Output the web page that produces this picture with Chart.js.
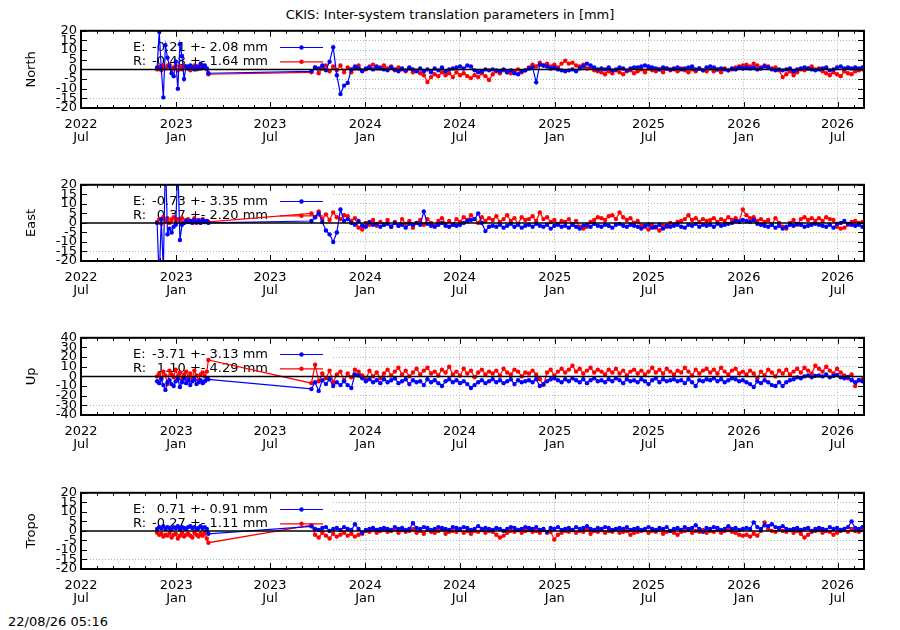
<!DOCTYPE html>
<html>
<head>
<meta charset="utf-8">
<title>CKIS inter-system translation parameters</title>
<script src="https://cdn.jsdelivr.net/npm/chart.js@4.4.1/dist/chart.umd.min.js"></script>
<style>
  body { margin: 0; background: #fff; }
  #page { position: relative; width: 900px; height: 630px; font-family: "DejaVu Sans", sans-serif; font-size: 13px; line-height: 15px; color: #000; }
  #page canvas { position: absolute; left: 0; }
  #title { position: absolute; top: 7px; left: 0; width: 900px; text-align: center; }
  #stamp { position: absolute; left: 8px; top: 614px; }
</style>
</head>
<body>
<div id="page">
  <div id="title">CKIS: Inter-system translation parameters in [mm]</div>
  <canvas id="cNorth" width="900" height="134" style="top:19px"></canvas>
  <canvas id="cEast" width="900" height="133" style="top:173px"></canvas>
  <canvas id="cUp" width="900" height="134" style="top:326px"></canvas>
  <canvas id="cTropo" width="900" height="133" style="top:481px"></canvas>
  <div id="stamp">22/08/26 05:16</div>
</div>
<script>
// dates of the solutions, in days since 2022-07-01
var days = [147, 151, 155, 159, 163, 167, 171, 175, 179, 183, 187, 191, 195, 199, 203, 207, 211, 215, 219, 223, 227, 231, 235, 239, 243, 246,
  445, 452, 459, 466, 473, 480, 487, 494, 501, 508,
  515, 522, 529, 536, 543, 550, 557, 564, 571, 578,
  585, 592, 599, 606, 613, 620, 627, 634, 641, 648,
  655, 662, 669, 676, 683, 690, 697, 704, 711, 718,
  725, 732, 739, 746, 753, 760, 767, 774, 781, 788,
  795, 802, 809, 816, 823, 830, 837, 844, 851, 858,
  865, 872, 879, 886, 893, 900, 907, 914, 921, 928,
  935, 942, 949, 956, 963, 970, 977, 984, 991, 998,
  1005, 1012, 1019, 1026, 1033, 1040, 1047, 1054, 1061, 1068,
  1075, 1082, 1089, 1096, 1103, 1110, 1117, 1124, 1131, 1138,
  1145, 1152, 1159, 1166, 1173, 1180, 1187, 1194, 1201, 1208,
  1215, 1222, 1229, 1236, 1243, 1250, 1257, 1264, 1271, 1278,
  1285, 1292, 1299, 1306, 1313, 1320, 1327, 1334, 1341, 1348,
  1355, 1362, 1369, 1376, 1383, 1390, 1397, 1404, 1411, 1418,
  1425, 1432, 1439, 1446, 1453, 1460, 1467, 1474, 1481, 1488,
  1495, 1502, 1509];

// North [mm]
var northE = [1, 19.5, 0.5, -14.5, 12.5, 6, 1.5, -2, -3.5, 4, -10, 13, 7, -5, 1.5, 0.5, 2, 1, 0, 1.5, 0.5, 3, 1, 2, 0.5, -2,
  -1, 1, 0.5, 2, -0.5, 4, 11.5, -3, -12.8, -8.4,
  -7, 0, 1.5, 0.5, -1, 0.5, 1, 0, 1.5, 0.5,
  0, -0.5, 1, 0, -1, 0.5, -0.5, 1, 0, -1,
  0.5, -1, 0, -1.5, 0.5, -0.5, 1, -1, 0, 0.5,
  1, 1.5, 0.5, 2, 1.5, -0.5, -1.5, -1, 0, -0.5,
  0, -0.5, -1, 0, -1.5, -0.5, -2, -2.5, -1, -0.5,
  0.5, 1, -6.7, 2.5, 2, 1.5, 0.5, 1, 0, -0.5,
  -1, -0.5, 0, -1, 0.5, 1.5, 3, 2, 1, 0,
  0.5, 0, 1, -0.5, 0, 1, 0.5, -0.5, 0.5, 1,
  1, 1.5, 2, 1.5, 1, 0.5, 0, 1, 0.5, 0,
  0.5, 1, 0, 0.5, 1, 1.5, 0, 0.5, -0.5, 1,
  1.5, 1, 0, 0.5, 0, -0.5, 0.5, 0, 1, 0.5,
  1, 0.5, 1, 0, 0.5, 1.5, 1, 0, -0.5, 0,
  -0.5, 0, 0.5, -1, 0, 0.5, 1, 0.5, 0, -0.5,
  0, 0.5, 1, -0.5, 0, 1, 1.5, 0.5, 1, 0.5,
  1, 0.5, 1];
var northR = [0, 1.5, -0.5, 2, 0.5, 1.5, 2.5, 0, 1, 2, -0.5, 1.5, 0, 2, 1, 1.5, -0.5, 1, 2, 0, 1.5, 0.5, 2, 1, 0, -2.5,
  -1.5, 1, -2, 0.5, 2, -1, 1.5, -0.5, 2, -1.5,
  1, -1.5, 0.5, 2, -0.5, 0, 1.5, 2.5, 0.5, 1,
  2, 0.5, 1.5, -0.5, 1, 0, -1, 0.5, -1.5, -0.5,
  -2, -3, -6.5, -4, -2.5, -3.5, -1.5, -3, -2, -4,
  -1.5, -3, -2, -3.5, -4.5, -3, -4, -2, -3.5, -5.5,
  -2.5, -1, -2, -0.5, -1.5, -2, -1, 0, -1.5, -0.5,
  1, 2.5, 1.5, 3.5, 2, 3, 1.5, 2.5, 1, 3,
  4.5, 3, 3.5, 2, 1.5, 2.5, 0.5, 1, -0.5, -1,
  -1.5, -2.5, -1, -2, -0.5, -1.5, -2.5, -1, -0.5, -2,
  -1, 0, -1.5, 0.5, -0.5, -1, 0, -1.5, 0.5, -0.5,
  0, -1, 0.5, -0.5, -1.5, 0, -1, 0.5, -0.5, -1,
  0.5, -1, 0, -1.5, 0.5, -0.5, 0, 1, 1.5, 2,
  2.5, 1.5, 3, 2, 1, 2, 1.5, 0.5, 1, -0.5,
  -4, -2.5, -1, -3, -1.5, 0, -0.5, 0.5, 1.5, 0,
  0.5, -1, -2, -3, -1.5, -2.5, -3.5, -1, -2, -2.5,
  -1, -0.5, 0];

// East [mm]
var eastE = [0, -30, 2, -25, 35, -6, -3, -5, -2, -1, 30, -9, -1, 0, 1, 0.5, 1, 0, 1.5, 0.5, 1, 0, 1.5, 0.5, 1, 0,
  1, 3, 5, 0.5, -4, -6, -10, -5, 7, 1,
  2, 0, -1, 1, -1.5, -2, 0.5, -1, -0.5, -2,
  -1, -0.5, -2, 0, -1.5, -1, -2.5, -0.5, -1, 0,
  -1, 6, -0.5, -1.5, -2, -1, 0, -1.5, -2, -1,
  -1.5, -1, 0, 1, 1.5, 2, 5, 0, -4.3, -2,
  -1.5, -2, -1, -2.5, -1.5, -0.5, -2, -1, -2.5, -1.5,
  -1, -2, -0.5, -1.5, -2, -1, -3, -1.5, -1, -2,
  -1.5, -2.5, -1, -2, -3, -1.5, -1, -2, -0.5, -1.5,
  -2, -1, -1.5, -2.5, -1, -0.5, -1.5, -2, -1, -1.5,
  -2, -3, -1.5, -1, -2.5, -2, -1, -3, -1.5, -2,
  -1.5, -1, -2, -2.5, -1, -1.5, -0.5, -2, -1, -1.5,
  -1, -2, -0.5, -1.5, -1, -0.5, 0, 1, 0.5, 1.5,
  1, 0.5, 1.5, -0.5, -1, -1.5, -2, -1, -2.5, -1.5,
  -3, -2, -1, -1.5, -0.5, -1, -2, -1.5, -1, -0.5,
  -1, -1.5, -2, -1, -2.5, -0.5, 0, 1, -0.5, -1,
  -1.5, -1, -2];
var eastR = [0.5, 2, -0.5, 3, 1, 2.5, 0, 1.5, 3, 0.5, 2, 1, 2.5, 0, 1.5, 2, 0.5, 1, 2.5, 0, 1.5, 1, 2, 0.5, 1, 0.5,
  5, 3, 6, 2, 4.5, 1.5, 5.5, 3, 2, 4,
  3.5, 1, 2.5, -2.5, -3.5, 0, -1, 1.5, -1.5, 0.5,
  -1, 1.5, -2, 0.5, -1.5, 2, -0.5, 1, -2.5, 0,
  1.5, -1, 2, 0, -1.5, 1, 2.5, -0.5, 1, -1,
  2, 0.5, 3, 1.5, 4, 2, 0, 3, 1, 2.5,
  1.5, 3.5, 0.5, 2, 4, 1, 2.5, -0.5, 3, 1.5,
  2, 3.5, 1, 5.5, 2, 3, 0.5, 1.5, -0.5, 1,
  0.5, 2, -1, 1, -2, -3, -2, 0.5, 1.5, 3,
  2.5, 1.5, 3.5, 4, 2, 5.5, 3, 1.5, 2.5, 0,
  1, -1.5, -2, -3.5, -1, -2.5, -4, -1.5, -2, 0,
  -1, 0.5, 1, 2, 4, 1.5, 2.5, 0.5, 2, 1,
  1.5, 2.5, 0.5, 2, 1, 3, 1.5, 2.5, 1, 7,
  4, 2.5, 3, 1, 2, 0.5, 1.5, -1, 2.5, 0,
  -2, -3, 0, 1.5, -1, 2, 3, 1.5, 2.5, 1,
  2.5, 1, 3, 2, 1.5, -2, -3, -2.5, -1, 0.5,
  1, 0, 0.5];

// Up [mm]
var upE = [-5, -7, -3, -9, -14, -6, -4, -8, -10, -5, -3, -11, -6, -2, -7, -4, -9, -5, -3, -8, -6, -4, -7, -5, -3, -3,
  -13, -6, -15, -4, -8, -3, -10, -6, -9, -5,
  -9, -12, 2, 1, -2, -5, -3, -6, -4, -7,
  -3, -6, -4, -2, -7, -5, -3, -8, -4, -6,
  -5, -9, -3, -6, -4, -7, -10, -5, -3, -6,
  -4, -7, -5, -8, -12, -9, -6, -4, -7, -5,
  -3, -6, -4, -7, -5, -3, -8, -4, -6, -5,
  -4, -6, -3, -10, -8, -5, -3, -2, -4, -6,
  -3, -5, -2, -4, -6, -3, -7, -4, -2, -5,
  -4, -6, -3, -5, -2, -4, -7, -3, -5, -4,
  -6, -3, -5, -8, -4, -2, -6, -3, -5, -4,
  -3, -5, -4, -7, -3, -6, -10, -4, -5, -3,
  -4, -2, -5, -3, -6, -4, -2, -3, -5, -4,
  -6, -8, -11, -5, -7, -4, -6, -9, -10, -6,
  -10, -6, -4, -3, -1, -2, 0, 1, -1, 0.5,
  1, 0, 2, -1, 0.5, 1.5, -1, -2, -0.5, -4,
  -6, -4, -5];
var upR = [0, 3, -2, 5, 1, -8, 6, 2, -1, 7, 0, 4, -3, 2, 5, -1, 3, -2, 6, 1, -4, 2, 4, 0, 5, 17,
  -7, 12, -5, 3, -2, 6, -6, 2, 5, -4,
  3, -1, 7, 5, 1, -3, 6, 0, 4, -2,
  3, 7, 1, 5, 9, 2, 6, 0, 4, 8,
  2, 6, 9, 3, 5, 1, 7, 4, 10, 2,
  5, 1, 8, 3, 6, -1, 4, 7, 2, 5,
  3, 6, 1, 8, 4, 2, 7, 5, 0, 4,
  3, 6, 2, -3, -9, 4, 7, 1, 5, 8,
  4, 7, 11, 5, 8, 3, 6, 9, 4, 7,
  5, 2, 7, 4, 8, 3, 6, 1, 5, 7,
  3, 6, 2, 5, 9, 4, 7, 3, 8, 5,
  2, 6, 4, 9, 5, 1, 7, 3, 6, 8,
  4, 7, 3, 9, 5, 2, 6, 8, 3, 5,
  2, 6, 3, -2, 5, 1, 7, 4, 0, 6,
  3, 7, 2, 5, 8, 4, 9, 6, 3, 11,
  8, 5, 10, 6, 3, 8, 4, 1, -2, 2,
  -10, -4, -3];

// Tropo [mm]
var tropoE = [1, 2, 1.5, 2.5, 1, 2, 1.5, 0.5, 2, 1.5, 2.5, 1, 2, 1.5, 1, 2, 2.5, 1.5, 2, 1, 1.5, 2.5, 1.5, 2, 1, -1.5,
  2.4, 1, 0.5, 1.5, 2, 0, 1, 1.5, 0.5, 2,
  1, 0.5, 3.5, 1, -1, 0.5, 1, 1.5, 0.5, 1,
  1.5, 1, 0.5, 2, 1, 1.5, 0.5, 1, 4, 1.5,
  1, 2, 1.5, 0.5, 1, 2, 1.5, 1, 0.5, 2,
  1.5, 1, 2, 1.5, 0.5, 1, 2.5, 1, 1.5, 1,
  0.5, 1.5, 1, 0, 1, 2, 1.5, 0.5, 1, 2,
  1.5, 1, 2, 0.5, 1, -0.5, 1.5, 1, 2, 0.5,
  1, 1.5, 0.5, 2, 1, 1.5, 2.5, 1, 0.5, 1.5,
  1, 2, 1.5, 0.5, 1, 1.5, 1, 2, 0.5, 1,
  1.5, 0.5, 1, 2, 1, 0.5, 1.5, 1, 2, 0,
  1, 1.5, 0.5, 2, 1, 1.5, 3, 1, -0.5, 1.5,
  1, 2, 1.5, 0.5, 1, 2.5, 1, 1.5, 0.5, 1,
  1.5, 1, 4.5, 2, 1, 3, 2.5, 3.5, 2, 1.5,
  2.5, 1, 0.5, 1, 1.5, 0.5, 1, 1.5, 0, 1,
  1.5, 1, 0.5, 2, 1, 1.5, 0.5, 1, 2, 5,
  1.5, 1, 2];
var tropoR = [-1, -2, -1.5, -3, -2, -2.5, -1, -3.5, -2, -1.5, -4, -2.5, -1, -3, -2, -1.5, -2.5, -3.5, -1, -2, -3, -1.5, -2.5, -1, -4, -6.2,
  3, -2, -3.5, -1, -2.5, -4, -1.5, -3, -2, -1,
  -2.5, -1.5, -3, -2, -1.5, 0, -0.5, 0.5, -1, 0,
  0.5, -0.5, 0, 1, -1, 0.5, -0.5, 0, 1, -1,
  0, -1.5, 0.5, -0.5, -1, 0, 1, -1.5, -0.5, 0,
  -0.5, 0.5, -1, 0, -1.5, 0, -0.5, 0.5, -1, 0,
  -0.5, -2, -3.5, -2.5, -1, 0, -0.5, 0.5, -1, 0,
  0.5, -0.5, 0, -1, 0.5, -1, -0.5, -4.5, -2, -1,
  0, -0.5, 0.5, -1, 0, -0.5, 1, -1.5, 0, -0.5,
  0.5, -1, 0, -0.5, 1, -1, -0.5, 0, -2, -1,
  -0.5, 0, 0.5, -1, 0, -0.5, 0.5, -1.5, -0.5, 0,
  -1, -2, -0.5, 0, 0.5, -1, 0, -0.5, 0.5, -1,
  0, -0.5, 0.5, -1, 0, 0.5, -0.5, -1, -2, -2.5,
  -2, -3, -1.5, -2.5, 0, 4.5, 1, 0, -0.5, 1,
  0, -0.5, 0.5, -1, 0, -1.5, -3.5, -2, -0.5, 0,
  0.5, -1, 0, -0.5, -2, -1, 0, 0.5, -0.5, 1,
  0, -0.5, 0.5];

// key texts: mean +- rms per solution
var keyNorth = [['E:', '-0.21 +- 2.08 mm'], ['R:', '-0.48 +- 1.64 mm']];
var keyEast = [['E:', '-0.73 +- 3.35 mm'], ['R:', '0.37 +- 2.20 mm']];
var keyUp = [['E:', '-3.71 +- 3.13 mm'], ['R:', '1.10 +- 4.29 mm']];
var keyTropo = [['E:', '0.71 +- 0.91 mm'], ['R:', '-0.27 +- 1.11 mm']];

var C_E = '#0000ff', C_R = '#ff0000', GRID = '#b4b4b4', NONE = 'rgba(0,0,0,0)';
var FONT = '"DejaVu Sans", sans-serif';

// one tick per month, labels on January and July
var T0 = Date.UTC(2022, 6, 1);
var monthTicks = [];
for (var i = 0; i <= 49; i++) {
  var yy = 2022 + Math.floor((6 + i) / 12), mm = (6 + i) % 12;
  monthTicks.push({
    value: (Date.UTC(yy, mm, 1) - T0) / 864e5,
    major: mm % 6 === 0,
    label: mm === 0 ? [String(yy), 'Jan'] : (mm === 6 ? [String(yy), 'Jul'] : '')
  });
}

var gnuplotLook = {
  id: 'gnuplotLook',
  beforeDatasetsDraw: function (chart, args, o) {
    var ctx = chart.ctx, a = chart.chartArea;
    ctx.save();
    // opaque key box
    ctx.fillStyle = '#fff';
    ctx.fillRect(a.left + 1, a.top + 1, 331 - a.left, 64);
    ctx.font = '13px ' + FONT;
    ctx.textBaseline = 'middle';
    [[o.key[0], C_E, 16.7], [o.key[1], C_R, 31]].forEach(function (k) {
      var y = a.top + k[2];
      ctx.fillStyle = '#000';
      ctx.textAlign = 'left';
      ctx.fillText(k[0][0], 133, y);
      ctx.textAlign = 'right';
      ctx.fillText(k[0][1], 268, y);
      ctx.strokeStyle = k[1];
      ctx.lineWidth = 1.2;
      ctx.beginPath(); ctx.moveTo(280, y); ctx.lineTo(323, y); ctx.stroke();
      ctx.fillStyle = k[1];
      ctx.beginPath(); ctx.arc(301.5, y, 2.2, 0, 2 * Math.PI); ctx.fill();
    });
    // y label
    ctx.fillStyle = '#000';
    ctx.translate(31.5, (a.top + a.bottom) / 2);
    ctx.rotate(-Math.PI / 2);
    ctx.textAlign = 'center';
    ctx.fillText(o.ylabel, 0, 0);
    ctx.restore();
  },
  afterDatasetsDraw: function (chart) {
    var ctx = chart.ctx, a = chart.chartArea, xs = chart.scales.x, ys = chart.scales.y;
    ctx.save();
    ctx.strokeStyle = '#000';
    // zero axis
    var y0 = ys.getPixelForValue(0);
    ctx.lineWidth = 1.5;
    ctx.beginPath(); ctx.moveTo(a.left, y0); ctx.lineTo(a.right, y0); ctx.stroke();
    // inward tics on all four sides
    ctx.lineWidth = 1;
    ctx.beginPath();
    xs.ticks.forEach(function (t, i) {
      var px = Math.round(xs.getPixelForValue(t.value)) + 0.5;
      var len = monthTicks[i].major ? 6 : 3;
      ctx.moveTo(px, a.bottom); ctx.lineTo(px, a.bottom - len);
      ctx.moveTo(px, a.top); ctx.lineTo(px, a.top + len);
    });
    ys.ticks.forEach(function (t) {
      var py = Math.round(ys.getPixelForValue(t.value)) + 0.5;
      ctx.moveTo(a.left, py); ctx.lineTo(a.left + 6, py);
      ctx.moveTo(a.right, py); ctx.lineTo(a.right - 6, py);
    });
    ctx.stroke();
    // border
    ctx.lineWidth = 2;
    ctx.strokeRect(a.left, a.top, a.right - a.left, a.bottom - a.top);
    ctx.restore();
  }
};

function series(vals, color) {
  return {
    data: days.map(function (d, i) { return { x: d, y: vals[i] }; }),
    borderColor: color,
    backgroundColor: color,
    borderWidth: 1.2,
    pointRadius: 2.2,
    pointBorderWidth: 0,
    pointHoverRadius: 0
  };
}

function panel(id, ylabel, e, r, key, lim, step) {
  var yTicks = [];
  for (var v = -lim; v <= lim; v += step) yTicks.push(v);
  return new Chart(document.getElementById(id), {
    type: 'line',
    data: { datasets: [series(e, C_E), series(r, C_R)] },
    options: {
      responsive: false,
      animation: false,
      events: [],
      layout: { padding: { top: 10, right: 36, left: 0, bottom: 0 } },
      plugins: {
        legend: { display: false },
        tooltip: { enabled: false },
        gnuplotLook: { ylabel: ylabel, key: key }
      },
      scales: {
        x: {
          type: 'linear', min: 0, max: 1512,
          afterBuildTicks: function (s) { s.ticks = monthTicks.map(function (t) { return { value: t.value }; }); },
          afterFit: function (s) { s.height = 45; },
          ticks: {
            autoSkip: false, maxRotation: 0, padding: 10, color: '#000',
            font: { family: FONT, size: 13, lineHeight: '13.3px' },
            callback: function (v, i) { return monthTicks[i].label; }
          },
          grid: {
            drawTicks: false, lineWidth: 1,
            color: function (c) {
              var t = monthTicks[c.index];
              return (c.tick && t && t.major && t.value > 500) ? GRID : NONE;
            }
          },
          border: { display: false, dash: [1, 2] }
        },
        y: {
          min: -lim, max: lim,
          afterBuildTicks: function (s) { s.ticks = yTicks.map(function (v) { return { value: v }; }); },
          afterFit: function (s) { s.width = 81; },
          ticks: { autoSkip: false, padding: 4, color: '#000', font: { family: FONT, size: 13 } },
          grid: {
            drawTicks: false, lineWidth: 1,
            color: function (c) {
              return (c.tick && c.tick.value !== 0 && Math.abs(c.tick.value) !== lim) ? GRID : NONE;
            }
          },
          border: { display: false, dash: [1, 2] }
        }
      }
    },
    plugins: [gnuplotLook]
  });
}

panel('cNorth', 'North', northE, northR, keyNorth, 20, 5);
panel('cEast', 'East', eastE, eastR, keyEast, 20, 5);
panel('cUp', 'Up', upE, upR, keyUp, 40, 10);
panel('cTropo', 'Tropo', tropoE, tropoR, keyTropo, 20, 5);
</script>
</body>
</html>
